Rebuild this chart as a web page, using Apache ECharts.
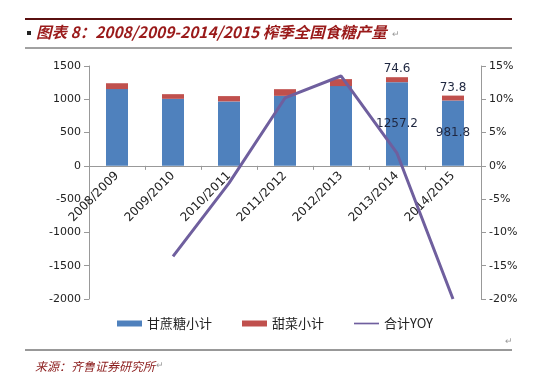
<!DOCTYPE html>
<html><head><meta charset="utf-8">
<script src="https://cdn.jsdelivr.net/npm/echarts@6/dist/echarts.min.js"></script>
<style>html,body{margin:0;padding:0;background:#fff}#c{width:550px;height:382px}</style>
</head><body><div id="c"></div>
<script>
var categories = ['2008/2009','2009/2010','2010/2011','2011/2012','2012/2013','2013/2014','2014/2015'];
var caneSugar = [1153, 1007, 968, 1052, 1198, 1257.2, 981.8];
var beetSugar = [88, 70, 80, 100, 105, 74.6, 73.8];
var totalYoy = [null, -13.6, -2.6, 10.2, 13.5, 1.9, -20];
var leftTicks = {min: -2000, max: 1500, interval: 500};
var rightTicks = {min: -20, max: 15, interval: 5};
var labeledIdx = [5, 6];

var gridTop = 66, gridBottom = 83, H = 382;
var plotH = H - gridTop - gridBottom;
var zeroOffset = -plotH * (0 - leftTicks.min) / (leftTicks.max - leftTicks.min);

var chart = echarts.init(document.getElementById('c'));
var numFont = 'DejaVu Sans';
function withLabels(arr, pos) {
  return arr.map(function (v, i) {
    if (labeledIdx.indexOf(i) >= 0) {
      return {value: v, label: {show: true, position: pos, color: '#1f2740', fontSize: 12, fontFamily: numFont, distance: 2}};
    }
    return v;
  });
}
chart.setOption({
  animation: false,
  backgroundColor: '#fff',
  grid: {left: 89, right: 69, top: gridTop, bottom: gridBottom, containLabel: false},
  legend: {
    bottom: 47, left: 'center', itemGap: 30, itemWidth: 25, itemHeight: 6,
    textStyle: {fontSize: 13, color: '#222', fontFamily: 'Noto Sans CJK SC'},
    data: [
      {name: '甘蔗糖小计', icon: 'rect'},
      {name: '甜菜小计', icon: 'rect'},
      {name: '合计YOY', icon: 'path://M0,4 L30,4 L30,6 L0,6 Z'}
    ]
  },
  xAxis: {
    type: 'category', data: categories, boundaryGap: true, position: 'bottom', offset: zeroOffset,
    axisLine: {onZero: false, lineStyle: {color: '#999', width: 1}},
    axisTick: {show: true, length: 4, lineStyle: {color: '#999'}},
    axisLabel: {rotate: 45, fontSize: 12, color: '#222', fontFamily: numFont, margin: 8, interval: 0}
  },
  yAxis: [
    {type: 'value', min: leftTicks.min, max: leftTicks.max, interval: leftTicks.interval,
     axisLine: {show: true, lineStyle: {color: '#999'}},
     axisTick: {show: true, length: 5, lineStyle: {color: '#999'}},
     splitLine: {show: false},
     axisLabel: {fontSize: 11, color: '#222', fontFamily: numFont, margin: 8, formatter: function (v) { return String(v); }}},
    {type: 'value', min: rightTicks.min, max: rightTicks.max, interval: rightTicks.interval,
     position: 'right',
     axisLine: {show: true, lineStyle: {color: '#999'}},
     axisTick: {show: true, length: 5, lineStyle: {color: '#999'}},
     splitLine: {show: false},
     axisLabel: {fontSize: 11, color: '#222', fontFamily: numFont, margin: 8, formatter: function (v) { return v + '%'; }}}
  ],
  series: [
    {name: '甘蔗糖小计', type: 'bar', stack: 's', barWidth: 22, itemStyle: {color: '#4f81bd'},
     data: withLabels(caneSugar, 'inside')},
    {name: '甜菜小计', type: 'bar', stack: 's', barWidth: 22, itemStyle: {color: '#c0504d'},
     data: withLabels(beetSugar, 'top')},
    {name: '合计YOY', type: 'line', yAxisIndex: 1, symbol: 'none', connectNulls: false,
     lineStyle: {color: '#6f5f9e', width: 3}, itemStyle: {color: '#6f5f9e'}, z: 5,
     data: totalYoy}
  ],
  graphic: [
    {type: 'line', shape: {x1: 25, y1: 19, x2: 512, y2: 19}, style: {stroke: '#5a1010', lineWidth: 2}},
    {type: 'rect', shape: {x: 27, y: 31, width: 4, height: 4}, style: {fill: '#222'}},
    {type: 'text', left: 36, top: 24, style: {text: '图表 8：2008/2009-2014/2015 榨季全国食糖产量', fill: '#9a1a1a',
      font: 'italic bold 15.5px "Noto Sans CJK SC", sans-serif'}},
    {type: 'text', left: 392, top: 30, style: {text: '↵', fill: '#999', font: '9px sans-serif'}},
    {type: 'line', shape: {x1: 25, y1: 48, x2: 512, y2: 48}, style: {stroke: '#444', lineWidth: 1}},
    {type: 'text', left: 505, top: 337, style: {text: '↵', fill: '#999', font: '9px sans-serif'}},
    {type: 'line', shape: {x1: 25, y1: 350, x2: 512, y2: 350}, style: {stroke: '#333', lineWidth: 1}},
    {type: 'text', left: 35, top: 360, style: {text: '来源：齐鲁证券研究所', fill: '#8a1a1a',
      font: 'italic 12px "Noto Sans CJK SC", sans-serif'}},
    {type: 'text', left: 156, top: 361, style: {text: '↵', fill: '#999', font: '9px sans-serif'}}
  ]
});
</script></body></html>
